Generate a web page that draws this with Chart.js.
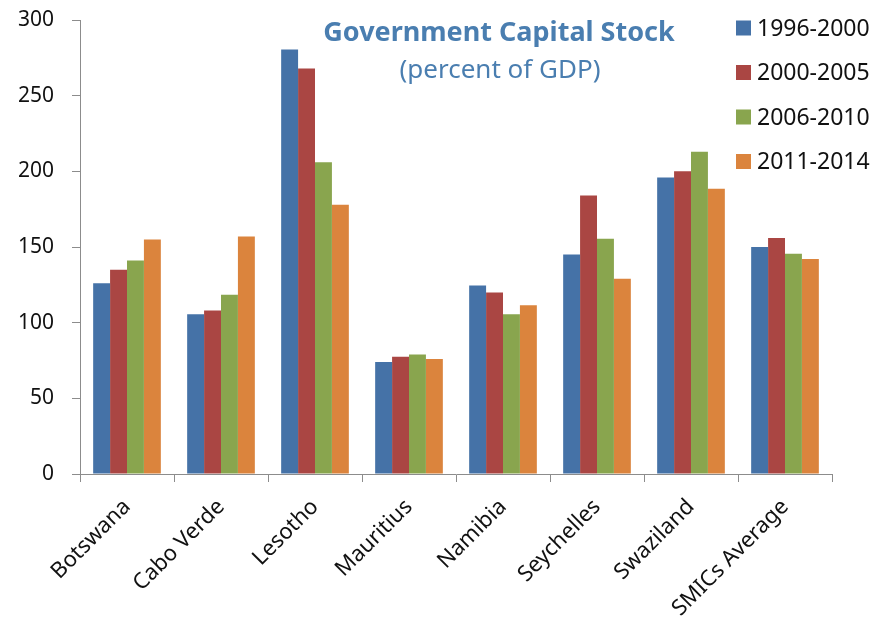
<!DOCTYPE html>
<html>
<head>
<meta charset="utf-8">
<title>Government Capital Stock</title>
<script src="https://cdn.jsdelivr.net/npm/chart.js@4"></script>
<style>
  html, body { margin: 0; padding: 0; background: #fff; }
  #wrap { width: 884px; height: 619px; }
</style>
</head>
<body>
<div id="wrap"><canvas id="chart" width="884" height="619"></canvas></div>
<script>
// categories and series (percent of GDP)
const countries = ["Botswana", "Cabo Verde", "Lesotho", "Mauritius", "Namibia", "Seychelles", "Swaziland", "SMICs Average"];
const periods = ["1996-2000", "2000-2005", "2006-2010", "2011-2014"];
const p1996 = [126, 105.5, 280.5, 74, 124.5, 145, 196, 150];
const p2000 = [135, 108, 268, 77.5, 120, 184, 200, 156];
const p2006 = [141, 118.5, 206, 79, 105.5, 155.5, 213, 145.5];
const p2011 = [155, 157, 178, 76, 111.5, 129, 188.5, 142];
const yTicks = [0, 50, 100, 150, 200, 250, 300];
const colors = ["#4572A7", "#AA4643", "#89A54E", "#DB843D"];

const titleText = "Government Capital Stock";
const subtitleText = "(percent of GDP)";
const FONT = "'Noto Sans', 'Open Sans', sans-serif";

const seriesValues = [p1996, p2000, p2006, p2011];

// title + legend are drawn inside the plot area, on top of the bars
const overlay = {
  id: "overlay",
  afterDraw(chart) {
    const ctx = chart.ctx;
    ctx.save();
    ctx.fillStyle = "#4A7EB0";
    ctx.textAlign = "center";
    ctx.textBaseline = "middle";
    ctx.font = "bold 27px " + FONT;
    ctx.fillText(titleText, 499, 33);
    ctx.font = "26px " + FONT;
    ctx.fillText(subtitleText, 500, 71);

    ctx.textAlign = "left";
    ctx.font = "23px " + FONT;
    chart.data.datasets.forEach((ds, i) => {
      const y = 28 + i * 44.5;
      ctx.fillStyle = ds.backgroundColor;
      ctx.fillRect(736, y - 7.5, 15, 15);
      ctx.fillStyle = "#111";
      ctx.fillText(ds.label, 757, y + 1);
    });
    ctx.restore();
  }
};

new Chart(document.getElementById("chart"), {
  type: "bar",
  data: {
    labels: countries,
    datasets: periods.map((p, i) => ({
      label: p,
      data: seriesValues[i],
      backgroundColor: colors[i],
      borderWidth: 0,
      barPercentage: 1,
      categoryPercentage: 0.72
    }))
  },
  options: {
    responsive: false,
    animation: false,
    devicePixelRatio: 1,
    layout: { padding: { top: 20, right: 52, left: 0, bottom: 0 } },
    plugins: {
      legend: { display: false },
      title: { display: false },
      tooltip: { enabled: false }
    },
    scales: {
      x: {
        afterFit: s => { s.height = 145; s.paddingLeft = 0; s.paddingRight = 0; },
        grid: { offset: true, drawOnChartArea: false, drawTicks: true, tickLength: 8, color: "#8c8c8c" },
        border: { display: true, color: "#8c8c8c", width: 1 },
        ticks: {
          maxRotation: 45, minRotation: 45, padding: 12,
          color: "#111", font: { family: FONT, size: 22 }
        }
      },
      y: {
        min: 0, max: 300,
        afterFit: s => { s.width = 80; s.paddingTop = 0; s.paddingBottom = 0; },
        afterBuildTicks: s => { s.ticks = yTicks.map(v => ({ value: v })); },
        grid: { drawOnChartArea: false, drawTicks: true, tickLength: 8, color: "#8c8c8c" },
        border: { display: true, color: "#8c8c8c", width: 1 },
        ticks: { padding: 18, color: "#111", font: { family: FONT, size: 21 } }
      }
    }
  },
  plugins: [overlay]
});
</script>
</body>
</html>
